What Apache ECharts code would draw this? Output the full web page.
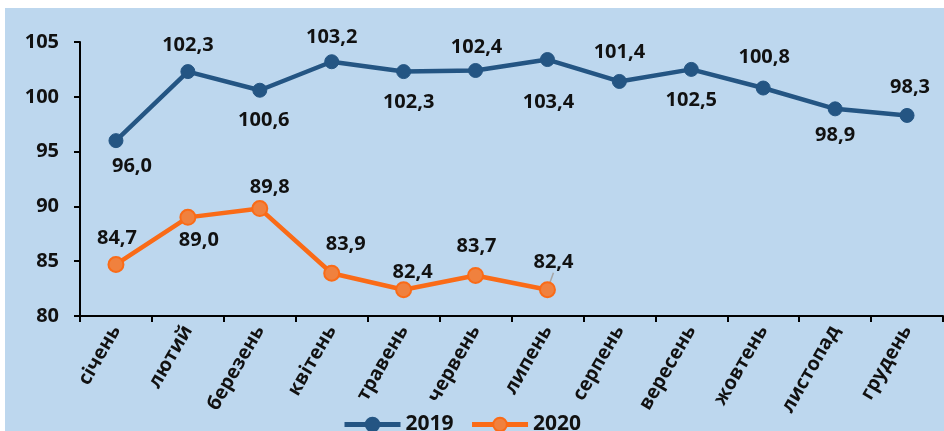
<!DOCTYPE html>
<html>
<head>
<meta charset="utf-8">
<script src="https://cdn.jsdelivr.net/npm/echarts@6/dist/echarts.min.js"></script>
<style>
  html, body { margin: 0; padding: 0; background: #ffffff; }
  #chart { width: 944px; height: 431px; }
</style>
</head>
<body>
<div id="chart"></div>
<script>
const categories = ['січень', 'лютий', 'березень', 'квітень', 'травень', 'червень', 'липень', 'серпень', 'вересень', 'жовтень', 'листопад', 'грудень'];
const values2019 = [96.0, 102.3, 100.6, 103.2, 102.3, 102.4, 103.4, 101.4, 102.5, 100.8, 98.9, 98.3];
const values2020 = [84.7, 89.0, 89.8, 83.9, 82.4, 83.7, 82.4];
const yTicks = [80, 85, 90, 95, 100, 105];

// label offsets (style only)
const offsets2019 = [[16, 26], [0, -26], [4, 30], [0, -24], [5, 31], [1, -23], [1, 43], [0, -29], [0, 31], [1, -31], [0, 26], [3, -28]];
const offsets2020 = [[1, -26], [11, 23], [10, -21], [14, -29], [9, -17], [1, -29], [6, -27]];

const FONT = '"Open Sans", "Noto Sans", sans-serif';
const BLUE = '#245583';
const ORANGE = '#FA6B17';

function fmt(v) { return v.toFixed(1).replace('.', ','); }

const chart = echarts.init(document.getElementById('chart'), null, { renderer: 'canvas' });

const labelStyle = {
  show: true,
  position: 'inside',
  fontFamily: FONT,
  fontWeight: 'bold',
  fontSize: 20,
  color: '#111111',
  formatter: p => fmt(p.value)
};

function layoutFor(offs) {
  return function (params) {
    const o = offs[params.dataIndex] || [0, 0];
    return { dx: o[0], dy: o[1] };
  };
}

chart.setOption({
  backgroundColor: '#ffffff',
  animation: false,
  graphic: [{
    type: 'rect',
    left: 5, top: 8,
    shape: { width: 939, height: 423 },
    style: { fill: '#BDD7EE' },
    z: -10
  }],
  grid: { left: 80, right: 1, top: 42, bottom: 115, containLabel: false },
  legend: {
    top: 409,
    left: 337,
    itemWidth: 56,
    itemHeight: 17,
    itemGap: 16,
    lineStyle: { width: 5 },
    textStyle: { fontFamily: FONT, fontWeight: 'bold', fontSize: 21, color: '#111111' },
    data: [
      { name: '2019', lineStyle: { color: BLUE, width: 5 } },
      { name: '2020', lineStyle: { color: ORANGE, width: 5 } }
    ]
  },
  xAxis: {
    type: 'category',
    data: categories,
    boundaryGap: true,
    axisLine: { lineStyle: { color: '#000000', width: 2 } },
    axisTick: { show: true, length: 6, lineStyle: { color: '#000000', width: 2 } },
    axisLabel: {
      rotate: 60,
      margin: 11,
      interval: 0,
      fontFamily: FONT,
      fontWeight: 'bold',
      fontSize: 19.5,
      color: '#111111'
    }
  },
  yAxis: {
    type: 'value',
    min: yTicks[0],
    max: yTicks[yTicks.length - 1],
    interval: 5,
    splitLine: { show: false },
    axisLine: { show: true, lineStyle: { color: '#000000', width: 2 } },
    axisTick: { show: true, length: 6, lineStyle: { color: '#000000', width: 2 } },
    axisLabel: {
      margin: 21,
      fontFamily: FONT,
      fontWeight: 'bold',
      fontSize: 20,
      color: '#111111'
    }
  },
  series: [
    {
      name: '2019',
      type: 'line',
      data: values2019,
      symbol: 'circle',
      symbolSize: 14,
      lineStyle: { color: BLUE, width: 4.5 },
      itemStyle: { color: BLUE, borderColor: BLUE, borderWidth: 1 },
      label: labelStyle,
      labelLayout: layoutFor(offsets2019),
      z: 3
    },
    {
      name: '2020',
      type: 'line',
      data: values2020.map((v, i) => (i === values2020.length - 1
        ? { value: v, labelLine: { show: true, lineStyle: { color: '#A6A6A6', width: 1.5 } } }
        : v)),
      symbol: 'circle',
      symbolSize: 15,
      lineStyle: { color: ORANGE, width: 4.5 },
      itemStyle: { color: '#F0813E', borderColor: ORANGE, borderWidth: 2 },
      label: labelStyle,
      labelLine: { show: false, smooth: false, length2: 0 },
      labelLayout: layoutFor(offsets2020),
      z: 3
    }
  ]
});
</script>
</body>
</html>
